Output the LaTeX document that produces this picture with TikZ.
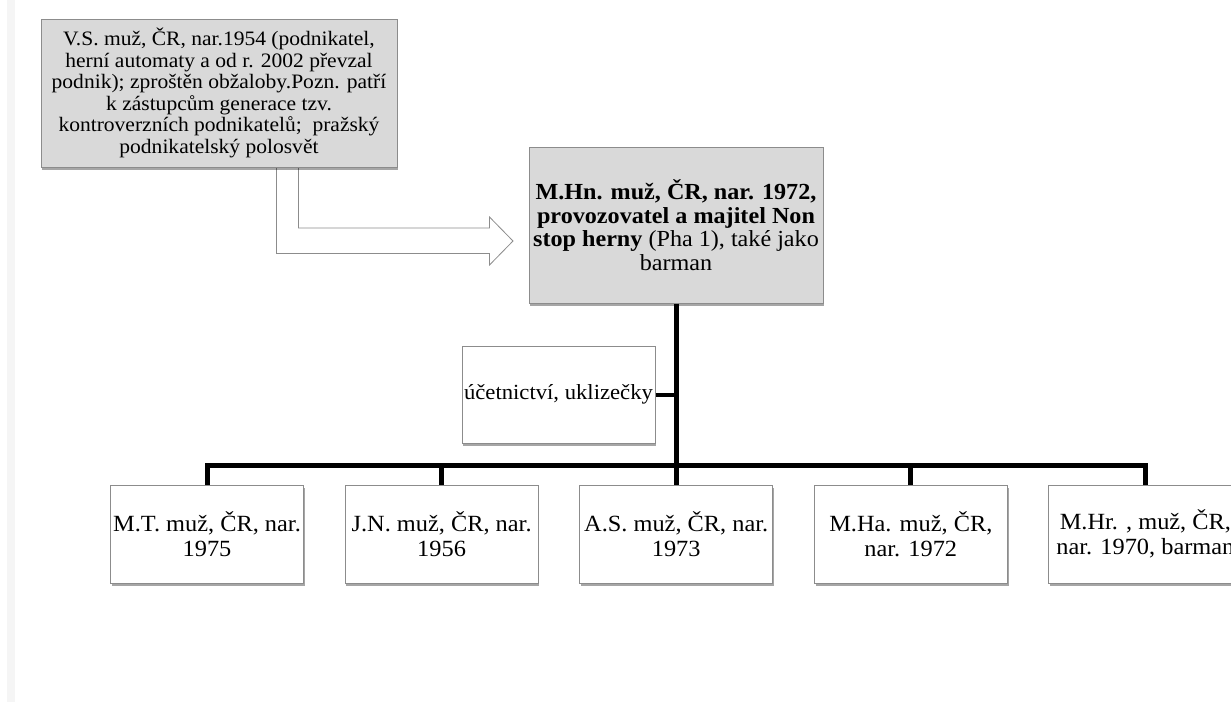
\documentclass[tikz,border=0pt]{standalone}
\usepackage{fontspec}
\setmainfont[FakeStretch=1.05]{Liberation Serif}
\usetikzlibrary{shadows}
\definecolor{boxgray}{HTML}{D9D9D9}
\definecolor{edgegray}{HTML}{8C8C8C}
\begin{document}
\begin{tikzpicture}[x=1pt,y=-1pt,
  box/.style={draw=edgegray, line width=1pt, fill=white, align=center, inner sep=0pt,
    drop shadow={shadow xshift=1.2pt, shadow yshift=-2.5pt, fill=black, opacity=0.35}},
  graybox/.style={box, fill=boxgray},
  lowbox/.style={box, minimum width=193pt, minimum height=98pt,
    font=\fontsize{23.2}{25}\selectfont},
  link/.style={line width=5pt, black, line join=miter},
  blockarrow/.style={draw=edgegray, fill=white, line width=0.8pt, line join=miter}]
\useasboundingbox (0,0) rectangle (1231,702);
\clip (0,0) rectangle (1231,702);
\fill[white] (0,0) rectangle (1231,702);
\fill[black!4] (7,0) rectangle (15,702);

% node positions (centres)
\coordinate (cvs) at (219,93);
\coordinate (cmain) at (676,225);

% block arrow (bent) from the top box to the main box
\draw[blockarrow] (276.5,160) -- (276.5,253.5) -- (489.5,253.5) -- (489.5,265)
  -- (513,241) -- (489.5,217) -- (489.5,228) -- (298.5,228) -- (298.5,160);

\node[graybox, minimum width=356pt, minimum height=148pt,
  font=\fontsize{20.5}{21.5}\selectfont] (vs) at (cvs)
  {V.S. muž, ČR, nar.1954 (podnikatel,\\
   herní automaty a od r. 2002 převzal\\
   podnik); zproštěn obžaloby.Pozn. patří\\
   k zástupcům generace tzv.\\
   kontroverzních podnikatelů;~ pražský\\
   podnikatelský polosvět};

\node[graybox, minimum width=294pt, minimum height=156pt,
  font=\fontsize{23}{23.5}\selectfont] (main) at (cmain)
  {\textbf{M.Hn. muž, ČR, nar. 1972,}\\
   \textbf{provozovatel a majitel Non}\\
   \textbf{stop herny} (Pha 1), také jako\\
   barman};

\node[box, minimum width=193pt, minimum height=97pt,
  font=\fontsize{21.6}{23}\selectfont] (acc) at (558.5,394.5)
  {účetnictví, uklizečky};

\node[lowbox] (b1) at (207,534) {M.T. muž, ČR, nar.\\1975};
\node[lowbox] (b2) at (441.6,534) {J.N. muž, ČR, nar.\\1956};
\node[lowbox] (b3) at (676.2,534) {A.S. muž, ČR, nar.\\1973};
\node[lowbox] (b4) at (910.8,534) {M.Ha. muž, ČR,\\nar. 1972};
\node[lowbox] (b5) at (1145.4,534) {M.Hr. , muž, ČR,\\nar. 1970, barman};

\coordinate (hub) at (676,465);

\draw[link] (main.south) -- (main.south |- hub);
\draw[link] (b1.north) -- (b1.north |- hub) -- (b5.north |- hub) -- (b5.north);
\draw[link] (b2.north) -- (b2.north |- hub);
\draw[link] (b3.north) -- (b3.north |- hub);
\draw[link] (b4.north) -- (b4.north |- hub);
\draw[link, line width=4pt] (acc.east) -- (acc.east -| main.south);
\end{tikzpicture}
\end{document}
